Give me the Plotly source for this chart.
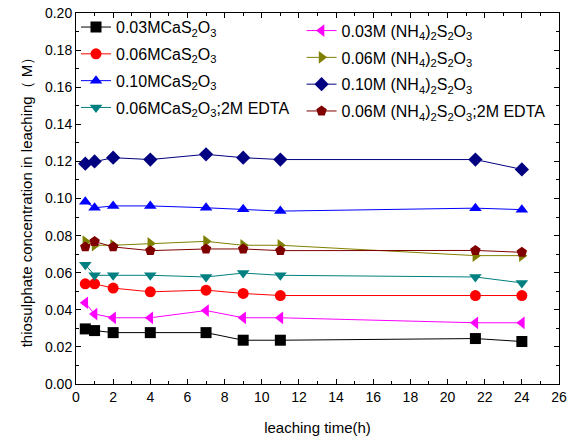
import plotly.graph_objects as go

time_h = [0.5, 1, 2, 4, 7, 9, 11, 21.5, 24]

ca_003 = [0.0297, 0.0288, 0.0277, 0.0277, 0.0277, 0.0236, 0.0236, 0.0245, 0.0229]
ca_006 = [0.0540, 0.0540, 0.0517, 0.0497, 0.0506, 0.0488, 0.0477, 0.0477, 0.0477]
ca_010 = [0.0982, 0.0950, 0.0960, 0.0960, 0.0950, 0.0942, 0.0932, 0.0948, 0.0940]
ca_006_edta = [0.0643, 0.0586, 0.0586, 0.0586, 0.0577, 0.0598, 0.0586, 0.0577, 0.0545]
nh_003 = [0.0438, 0.0377, 0.0357, 0.0357, 0.0396, 0.0357, 0.0357, 0.0330, 0.0330]
nh_006 = [0.0768, 0.0748, 0.0748, 0.0758, 0.0769, 0.0748, 0.0748, 0.0692, 0.0692]
nh_010 = [0.1188, 0.1200, 0.1220, 0.1210, 0.1238, 0.1220, 0.1210, 0.1210, 0.1157]
nh_006_edta = [0.0739, 0.0768, 0.0739, 0.0719, 0.0728, 0.0728, 0.0719, 0.0720, 0.0710]

series = [
    ("0.03MCaS<sub>2</sub>O<sub>3</sub>", ca_003, "#000000", "square", "legend"),
    ("0.06MCaS<sub>2</sub>O<sub>3</sub>", ca_006, "#FF0000", "circle", "legend"),
    ("0.10MCaS<sub>2</sub>O<sub>3</sub>", ca_010, "#0000FF", "triangle-up", "legend"),
    ("0.06MCaS<sub>2</sub>O<sub>3</sub>;2M EDTA", ca_006_edta, "#008080", "triangle-down", "legend"),
    ("0.03M (NH<sub>4</sub>)<sub>2</sub>S<sub>2</sub>O<sub>3</sub>", nh_003, "#FF00FF", "triangle-left", "legend2"),
    ("0.06M (NH<sub>4</sub>)<sub>2</sub>S<sub>2</sub>O<sub>3</sub>", nh_006, "#808000", "triangle-right", "legend2"),
    ("0.10M (NH<sub>4</sub>)<sub>2</sub>S<sub>2</sub>O<sub>3</sub>", nh_010, "#000080", "diamond", "legend2"),
    ("0.06M (NH<sub>4</sub>)<sub>2</sub>S<sub>2</sub>O<sub>3</sub>;2M EDTA", nh_006_edta, "#800000", "pentagon", "legend2"),
]

fig = go.Figure()
for i, (name, vals, color, sym, leg) in enumerate(series):
    fig.add_trace(go.Scatter(
        x=time_h, y=vals, name=name, mode="lines+markers",
        line=dict(color=color, width=1),
        marker=dict(symbol=sym, size=11, color=color),
        legend=leg, legendgroup=f"g{i}",
    ))

font_family = "Liberation Sans, Arial, sans-serif"
fig.update_layout(
    width=572, height=441,
    margin=dict(l=76, r=13, t=13, b=57, autoexpand=False),
    plot_bgcolor="white", paper_bgcolor="white",
    font=dict(family=font_family, size=14, color="black"),
    legend=dict(x=0.0, y=0.977, xanchor="left", yanchor="top", yref="container",
                bgcolor="rgba(0,0,0,0)", font=dict(size=16), tracegroupgap=3),
    legend2=dict(x=0.467, y=0.969, xanchor="left", yanchor="top", yref="container",
                 bgcolor="rgba(0,0,0,0)", font=dict(size=16), tracegroupgap=3),
)
fig.update_xaxes(
    range=[0, 26], tickmode="linear", tick0=0, dtick=2,
    ticks="inside", ticklen=5, tickcolor="black",
    minor=dict(ticks="inside", ticklen=3, dtick=1, tickcolor="black"),
    showline=True, linecolor="black", linewidth=1, mirror="allticks",
    showgrid=False, zeroline=False, automargin=False,
    title=dict(text="leaching time(h)", font=dict(size=15), standoff=18),
)
fig.update_yaxes(
    range=[0, 0.20], tickmode="linear", tick0=0, dtick=0.02, tickformat=".2f",
    ticks="inside", ticklen=5, tickcolor="black",
    minor=dict(ticks="inside", ticklen=3, dtick=0.01, tickcolor="black"),
    showline=True, linecolor="black", linewidth=1, mirror="allticks",
    showgrid=False, zeroline=False, automargin=False,
    title=dict(text="thiosulphate concentration in leaching（ M）", font=dict(size=15), standoff=8),
)

fig.write_html("out.html")
